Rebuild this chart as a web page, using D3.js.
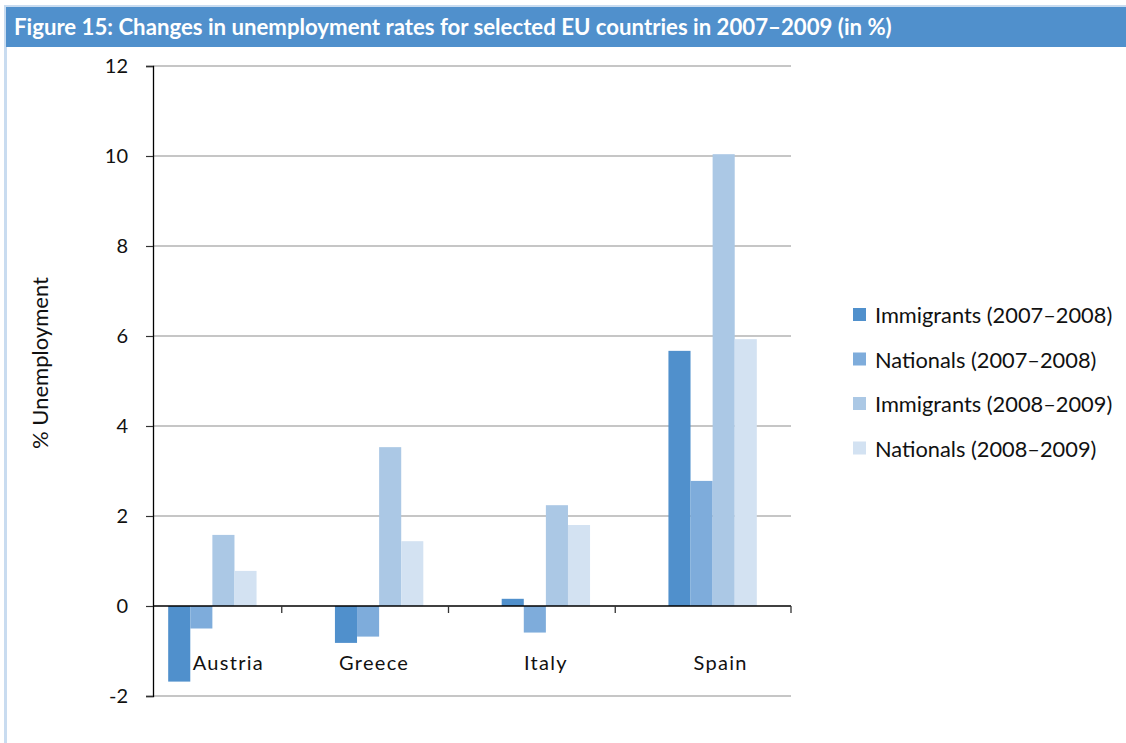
<!DOCTYPE html>
<html>
<head>
<meta charset="utf-8">
<script src="https://cdn.jsdelivr.net/npm/d3@7"></script>
<style>
  html, body { margin: 0; padding: 0; background: #ffffff; }
  svg { display: block; }
</style>
</head>
<body>
<svg id="chart" width="1126" height="743"></svg>
<script>
const titleText = "Figure 15: Changes in unemployment rates for selected EU countries in 2007–2009 (in %)";
const countries = ["Austria", "Greece", "Italy", "Spain"];
const seriesNames = ["Immigrants (2007–2008)", "Nationals (2007–2008)", "Immigrants (2008–2009)", "Nationals (2008–2009)"];
const immigrants0708 = [-1.68, -0.82, 0.16, 5.67];
const nationals0708 = [-0.50, -0.68, -0.59, 2.78];
const immigrants0809 = [1.58, 3.53, 2.24, 10.04];
const nationals0809 = [0.78, 1.44, 1.80, 5.93];
const seriesValues = [immigrants0708, nationals0708, immigrants0809, nationals0809];
const yTicks = [-2, 0, 2, 4, 6, 8, 10, 12];
const yLabel = "% Unemployment";
const colors = ["#5090cc", "#7eacdb", "#abc8e5", "#d3e2f2"];

const svg = d3.select("#chart");
const font = "Lato, 'Open Sans', sans-serif";

// frame
svg.append("rect").attr("x", 4).attr("y", 5).attr("width", 1122).attr("height", 3).attr("fill", "#c9dcf0");
svg.append("rect").attr("x", 4).attr("y", 7).attr("width", 3).attr("height", 736).attr("fill", "#c9dcf0");
svg.append("rect").attr("x", 6).attr("y", 7).attr("width", 1120).attr("height", 40).attr("fill", "#5090cc");
svg.append("text").attr("x", 14).attr("y", 35)
  .attr("font-family", font).attr("font-weight", "bold").attr("font-size", 22.2)
  .attr("fill", "#ffffff").text(titleText);

const plotLeft = 153, plotRight = 791;
const y = d3.scaleLinear().domain([-2, 12]).range([696, 66]);
const x0 = d3.scaleBand().domain(countries).range([129, 796]).paddingInner(0.47).paddingOuter(0.235);
const x1 = d3.scaleBand().domain(seriesNames).range([0, x0.bandwidth()]);

// gridlines
svg.append("g").selectAll("line").data(yTicks.filter(t => t !== 0)).join("line")
  .attr("x1", plotLeft).attr("x2", plotRight)
  .attr("y1", d => y(d)).attr("y2", d => y(d))
  .attr("stroke", "#b3b3b3").attr("stroke-width", 1.3);

// bars
const rows = [];
seriesValues.forEach((vals, si) => vals.forEach((v, ci) => rows.push({s: seriesNames[si], si, c: countries[ci], v})));
svg.append("g").selectAll("rect").data(rows).join("rect")
  .attr("x", d => x0(d.c) + x1(d.s))
  .attr("width", x1.bandwidth())
  .attr("y", d => y(Math.max(0, d.v)))
  .attr("height", d => Math.abs(y(d.v) - y(0)))
  .attr("fill", d => colors[d.si]);

// y axis
const yAxis = d3.axisLeft(y).tickValues(yTicks).tickSize(7).tickPadding(18).tickFormat(d => String(d));
const gy = svg.append("g").attr("transform", `translate(${plotLeft},0)`).call(yAxis);
gy.select(".domain").attr("stroke", "#000").attr("stroke-width", 1.3);
gy.selectAll(".tick line").attr("stroke", "#333").attr("stroke-width", 1.2);
gy.selectAll(".tick text").attr("font-family", font).attr("font-size", 20).attr("fill", "#111");

// x axis line at zero
svg.append("line").attr("x1", plotLeft).attr("x2", plotRight).attr("y1", y(0)).attr("y2", y(0))
  .attr("stroke", "#000").attr("stroke-width", 1.3);
const tickXs = countries.slice(1).map(c => x0(c) - x0.step() * x0.paddingInner() / 2 - 14).concat([plotRight]);
svg.append("g").selectAll("line").data(tickXs).join("line")
  .attr("x1", d => d).attr("x2", d => d).attr("y1", y(0)).attr("y2", y(0) + 7)
  .attr("stroke", "#333").attr("stroke-width", 1.3);

// category labels
const labelOffset = [16, -5, 0, 8];
svg.append("g").selectAll("text").data(countries).join("text")
  .attr("x", (d, i) => x0(d) + x0.bandwidth() / 2 + labelOffset[i])
  .attr("y", 670).attr("text-anchor", "middle")
  .attr("font-family", font).attr("font-size", 20).attr("letter-spacing", 1.3)
  .attr("fill", "#111").text(d => d);

// y label
svg.append("text").attr("transform", "translate(48,363) rotate(-90)")
  .attr("text-anchor", "middle").attr("font-family", font).attr("font-size", 22)
  .attr("fill", "#111").text(yLabel);

// legend
const lg = svg.append("g").selectAll("g").data(seriesNames).join("g")
  .attr("transform", (d, i) => `translate(853,${315 + i * 44.5})`);
lg.append("rect").attr("x", 0).attr("y", -7).attr("width", 13).attr("height", 13)
  .attr("fill", (d, i) => colors[i]);
lg.append("text").attr("x", 22).attr("y", 8)
  .attr("font-family", font).attr("font-size", 21.8).attr("fill", "#111").text(d => d);
</script>
</body>
</html>
